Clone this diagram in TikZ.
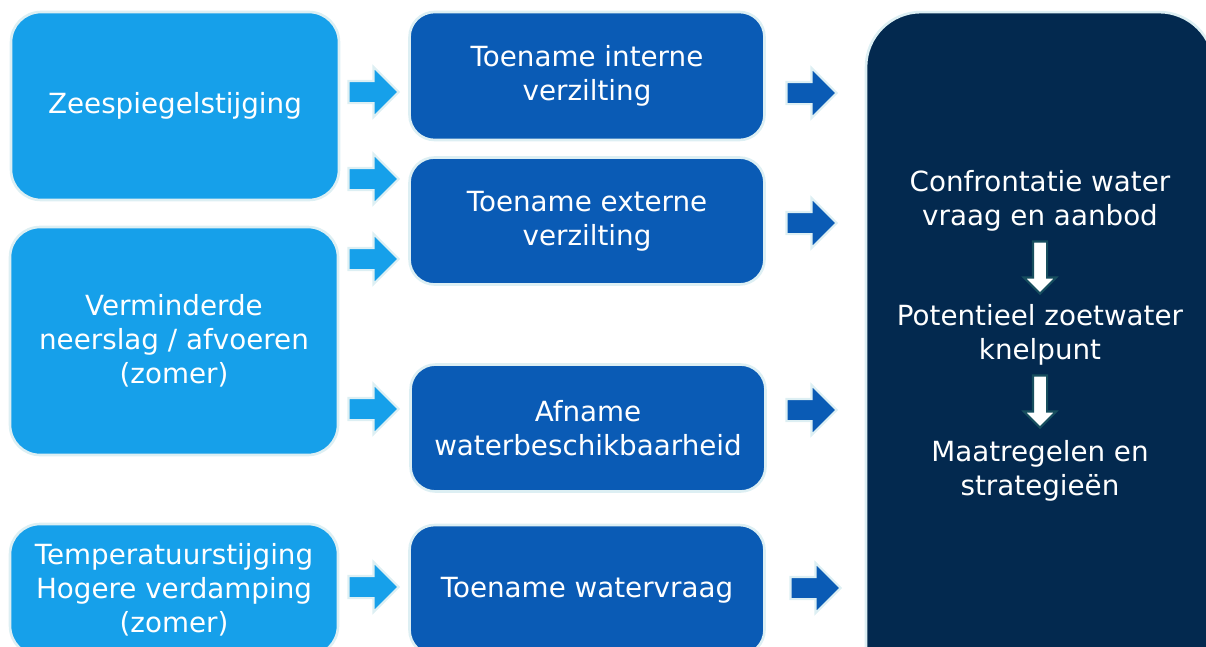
\documentclass[tikz,border=0pt]{standalone}
\usepackage{fontspec}
\setmainfont{DejaVu Sans}
\usetikzlibrary{shapes.arrows}
\definecolor{zeeblue}{HTML}{16A0EA}
\definecolor{midblue}{HTML}{0A5BB5}
\definecolor{navy}{HTML}{03294F}
\definecolor{rim}{HTML}{DDEFF3}
\definecolor{darkrim}{HTML}{174E5E}
\begin{document}
\begin{tikzpicture}[x = 0.02cm, y = -0.02cm,
        every node/.style = {text = white, align = center, font = \fontsize{15.8}{19.4}\selectfont},
        cause/.style = {draw = rim, line width = 1.5pt, fill = zeeblue, rounded corners = 0.6cm, minimum width = 6.56cm},
        effect/.style = {draw = rim, line width = 1.5pt, fill = midblue, rounded corners = 0.5cm, minimum width = 7.1cm},
        push/.style = {single arrow, draw = rim, line width = 1.2pt, minimum height = 1cm, inner xsep = 0pt, inner ysep = 0.2cm, single arrow head extend = 0.28cm},
        sink/.style = {single arrow, shape border rotate = 270, draw = darkrim, fill = white, line width = 1.2pt, minimum height = 1.04cm, inner sep = 0.12cm, single arrow head extend = 0.18cm}]
    \useasboundingbox (0,0) rectangle (1206,646);
    \clip (0,0) rectangle (1206,646);
    % oorzaken
    \node [cause, minimum height = 3.76cm] (zee) at (175,106) {Zeespiegelstijging};
    \node [cause, minimum height = 4.56cm] (neerslag) at (174,341) {Verminderde\\neerslag / afvoeren\\(zomer)};
    \node [cause, minimum height = 2.64cm] (temp) at (174,590) {Temperatuurstijging\\Hogere verdamping\\(zomer)};
    % effecten
    \node [effect, minimum height = 2.56cm] (intern) at (587,76) {Toename interne\\verzilting};
    \node [effect, minimum height = 2.54cm] (extern) at (587,221) {Toename externe\\verzilting};
    \node [effect, minimum height = 2.54cm] (afname) at (588,428) {Afname\\waterbeschikbaarheid};
    \node [effect, minimum height = 2.6cm] (vraag) at (587,590) {Toename watervraag};
    % confrontatie
    \node [draw = rim, line width = 1.5pt, fill = navy, rounded corners = 1.1cm, minimum width = 6.96cm, minimum height = 14cm] (knelpunt) at (1040,362) {};
    \node (confrontatie) at (1040,201) {Confrontatie water\\vraag en aanbod};
    \node (potentieel) at (1040,335) {Potentieel zoetwater\\knelpunt};
    \node (maatregelen) at (1040,471) {Maatregelen en\\strategieën};
    % pijlen
    \foreach \y in {92,179,259,409,587}
        \node [push, fill = zeeblue] at (368,\y) {};
    \foreach \y/\x in {93/806,223/806,410/806,588/810}
        \node [push, fill = midblue] at (\x,\y) {};
    \node [sink] at (1040,264) {};
    \node [sink] at (1040,398) {};
\end{tikzpicture}
\end{document}
